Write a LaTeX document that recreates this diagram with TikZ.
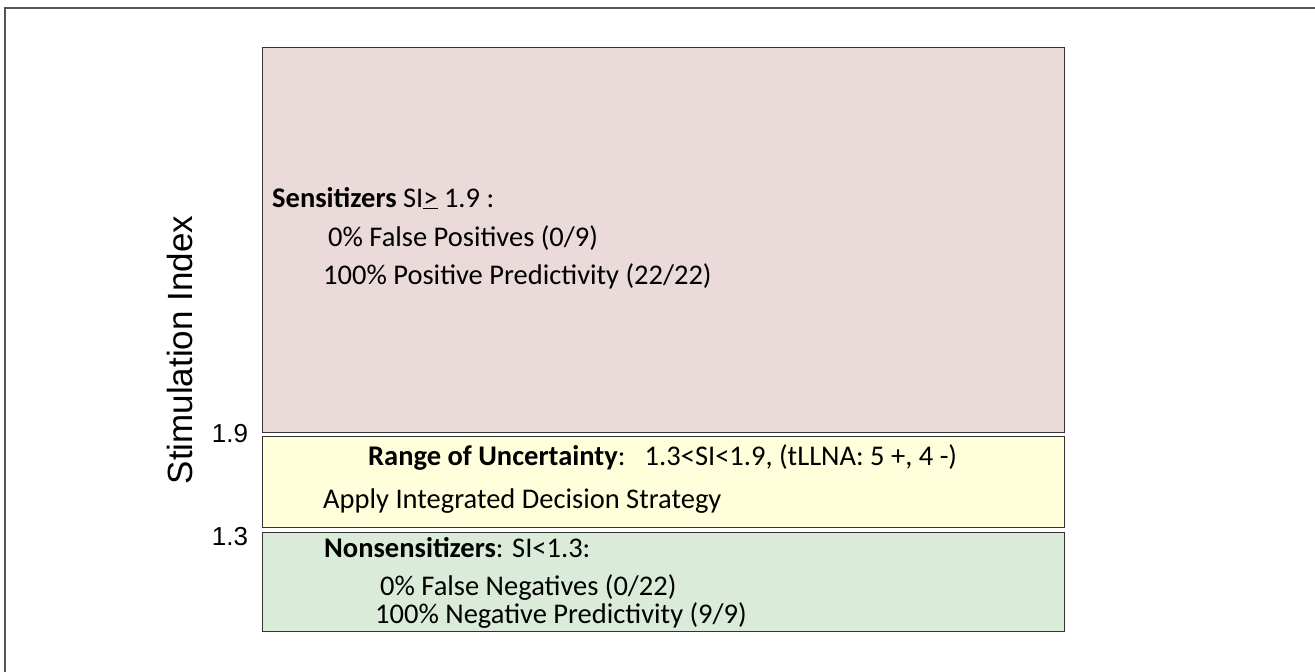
\documentclass[tikz,border=0pt]{standalone}
\usepackage{fontspec}
\setmainfont{Carlito}
\newfontfamily\axisfont{Liberation Sans}
\definecolor{pinkfill}{HTML}{EBDADA}
\definecolor{yellowfill}{HTML}{FFFFDB}
\definecolor{greenfill}{HTML}{DAEBDA}
\definecolor{edgegray}{HTML}{333333}
\definecolor{framegray}{HTML}{555555}
\tikzset{
  band/.style={draw=edgegray, line width=1.3pt, inner sep=0pt, anchor=north west},
  txt/.style={anchor=base west, inner sep=0pt, font=\fontsize{28.5}{34}\selectfont},
  axis/.style={inner sep=0pt, anchor=base, font=\axisfont\fontsize{26}{30}\selectfont},
}
\begin{document}
\begin{tikzpicture}[x=1pt,y=-1pt]
\useasboundingbox (0,0) rectangle (1315,672);
\draw[framegray, line width=1.5pt] (5,8) rectangle (1340,700);
% bands
\node[band, fill=pinkfill, minimum width=802pt, minimum height=385pt] (sens) at (262,47) {};
\node[band, fill=yellowfill, minimum width=802pt, minimum height=91pt] (unc) at (262,436) {};
\node[band, fill=greenfill, minimum width=802pt, minimum height=99pt] (non) at (262,532) {};
% sensitizers text
\node[txt] (s1) at (272,207) {\textbf{Sensitizers} SI\underline{>} 1.9 :};
\node[txt] (s2) at (328,246) {0\% False Positives (0/9)};
\node[txt] (s3) at (323,284) {100\% Positive Predictivity (22/22)};
% uncertainty text
\node[txt] (u1) at (368,465) {\textbf{Range of Uncertainty}:\ \ \ 1.3<SI<1.9, (tLLNA: 5 +, 4 -)};
\node[txt] (u2) at (323,508) {Apply Integrated Decision Strategy};
% nonsensitizers text
\node[txt] (n1) at (324,557) {\textbf{Nonsensitizers}: SI<1.3:};
\node[txt] (n2) at (380,595) {0\% False Negatives (0/22)};
\node[txt] (n3) at (375,623) {100\% Negative Predictivity (9/9)};
% axis
\node[axis, rotate=90, font=\axisfont\fontsize{35}{40}\selectfont] (ax) at (192,350) {Stimulation Index};
\node[axis] (t19) at (230,442) {1.9};
\node[axis] (t13) at (230,545) {1.3};
\end{tikzpicture}
\end{document}
